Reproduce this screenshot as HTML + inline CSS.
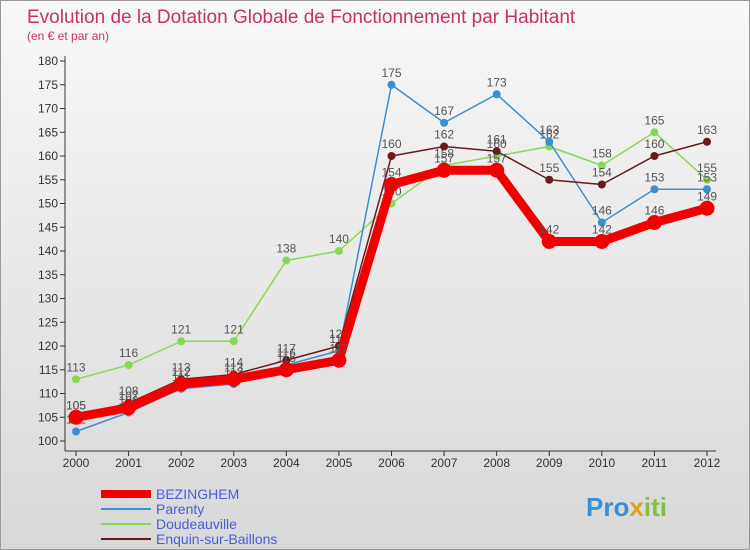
<!DOCTYPE html>
<html><head><meta charset="utf-8"><style>
body{margin:0}
#c{width:750px;height:550px;position:relative;overflow:hidden;border:1px solid #999;box-sizing:border-box;background:linear-gradient(#f8f8f8,#d8d8d8);font-family:"Liberation Sans",sans-serif}
</style></head><body>
<div id="c">
<svg id="s" width="750" height="550" style="position:absolute;left:0;top:0" font-family="Liberation Sans, sans-serif">
<text x="26" y="22" font-size="19" fill="#c8306a">Evolution de la Dotation Globale de Fonctionnement par Habitant</text>
<text x="26" y="39" font-size="12" fill="#c8306a">(en € et par an)</text>
<g id="axes"></g><g id="series"></g><g id="legend"></g>
<text x="585" y="515" font-size="26" font-weight="bold" fill="#3a8fd0">Pro<tspan fill="#e0a020">x</tspan><tspan fill="#80c040">iti</tspan></text>
</svg>
</div>
<script>
const years=["2000","2001","2002","2003","2004","2005","2006","2007","2008","2009","2010","2011","2012"];
const yTicks=[100,105,110,115,120,125,130,135,140,145,150,155,160,165,170,175,180];
const bezinghem=[105,107,112,113,115,117,154,157,157,142,142,146,149];
const parenty=[102,106,111,112,116,119,175,167,173,163,146,153,153];
const doudeauville=[113,116,121,121,138,140,150,158,160,162,158,165,155];
const enquin=[105,108,113,114,117,120,160,162,161,155,154,160,163];
const NS="http://www.w3.org/2000/svg";
const X=i=>75+i*(631/12);
const Y=v=>440-(v-100)*4.75;
function mk(t,a,p){const e=document.createElementNS(NS,t);for(const k in a)e.setAttribute(k,a[k]);p.appendChild(e);return e;}
const ax=document.getElementById('axes');
const yl=mk('line',{x1:64,y1:55,x2:64,y2:450,stroke:'#333'},ax);


const xl=mk('line',{x1:64,y1:450,x2:715,y2:450,stroke:'#333'},ax);


yTicks.forEach(v=>{
  mk('line',{x1:59,y1:Y(v),x2:64,y2:Y(v),stroke:'#333'},ax);
  const t=mk('text',{x:57,y:Y(v)+4,'font-size':12,'text-anchor':'end',fill:'#333'},ax);t.textContent=v;
  
  
});
years.forEach((y,i)=>{
  mk('line',{x1:X(i),y1:450,x2:X(i),y2:455,stroke:'#333'},ax);
  const t=mk('text',{x:X(i),y:466,'font-size':12,'text-anchor':'middle',fill:'#333'},ax);t.textContent=y;
  
  
});
const sg=document.getElementById('series');
const series=[
 {name:'Doudeauville',d:doudeauville,c:'#88d858',w:1.5,r:4},
 {name:'Parenty',d:parenty,c:'#3a8fd0',w:1.5,r:4},
 {name:'Enquin-sur-Baillons',d:enquin,c:'#6a1a1a',w:1.5,r:4},
 {name:'BEZINGHEM',d:bezinghem,c:'#f00000',w:9,r:7.5}
];
series.forEach(s=>{
  const g=mk('g',{},sg);
  
  
  mk('polyline',{points:s.d.map((v,i)=>X(i)+','+Y(v)).join(' '),fill:'none',stroke:s.c,'stroke-width':s.w,'stroke-linejoin':'round'},g);
  s.d.forEach((v,i)=>{
    const p=mk('circle',{cx:X(i),cy:Y(v),r:s.r,fill:s.c},g);
    
    
    const t=mk('text',{x:X(i),y:Y(v)-8,'font-size':12,'text-anchor':'middle',fill:'#555'},g);t.textContent=v;
    
    
  });
});
const lg=document.getElementById('legend');
const leg=[['BEZINGHEM','#f00000',8],['Parenty','#3a8fd0',2],['Doudeauville','#88d858',2],['Enquin-sur-Baillons','#6a1a1a',2]];
leg.forEach((l,i)=>{
  const y=493+i*15;
  const g=mk('g',{},lg);
  
  
  mk('line',{x1:100,y1:y,x2:150,y2:y,stroke:l[1],'stroke-width':l[2]},g);
  const t=mk('text',{x:155,y:y+5,'font-size':14,fill:'#4a5ce0'},g);t.textContent=l[0];
});
</script>
</body></html>
